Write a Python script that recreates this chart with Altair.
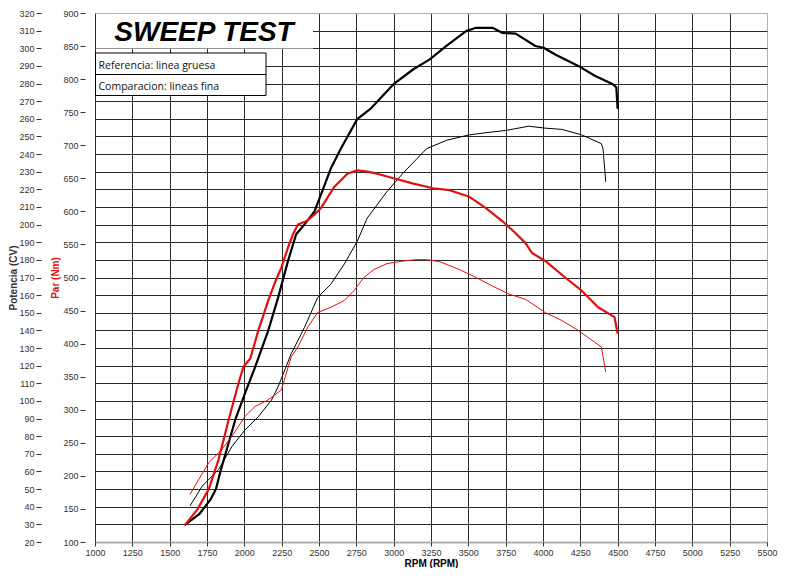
import altair as alt
import pandas as pd

# ---------------- data ----------------
# Reference (thick) power curve, CV
ref_pow_rpm = [1600, 1700, 1773, 1810, 1840, 1895, 1939, 2005, 2072, 2160, 2226, 2292, 2347,
               2403, 2469, 2513, 2579, 2646, 2756, 2844, 2999, 3132, 3242, 3353, 3485, 3552,
               3662, 3729, 3817, 3949, 4004, 4082, 4236, 4347, 4468, 4491, 4500]
ref_pow_cv = [29.6, 36.0, 44.0, 50.0, 60.0, 76.3, 89.2, 104.4, 119.2, 139.9, 158.6, 179.3, 194.5,
              200.1, 207.4, 217.0, 231.8, 243.0, 259.8, 265.6, 279.6, 288.1, 293.7, 301.3, 309.7, 311.6,
              311.6, 308.7, 308.3, 301.3, 300.3, 296.5, 290.0, 284.4, 279.6, 277.8, 265.6]

# Reference (thick) torque curve, Nm
ref_tq_rpm = [1600, 1685, 1762, 1828, 1895, 1961, 1994, 2039, 2094, 2160, 2204, 2248, 2292,
              2325, 2359, 2414, 2469, 2513, 2602, 2690, 2756, 2823, 2889, 2999, 3132, 3265,
              3375, 3507, 3618, 3729, 3817, 3883, 3927, 4015, 4148, 4259, 4369, 4479, 4500]
ref_tq_nm = [125, 149, 180, 225, 285, 340, 365, 377, 420, 465, 492, 515, 545,
             565, 580, 585, 595, 605, 637, 657, 662, 660, 657, 650, 642, 635,
             632, 622, 605, 585, 567, 552, 537, 525, 500, 480, 455, 440, 415]

# Comparison (thin) power curve, CV
cmp_pow_rpm = [1636, 1718, 1828, 1917, 2005, 2094, 2182, 2226, 2314, 2403, 2491, 2579, 2668,
               2756, 2823, 2889, 2955, 3066, 3220, 3353, 3507, 3618, 3750, 3905, 4015, 4126,
               4259, 4391, 4402, 4420]
cmp_pow_cv = [40.4, 51.7, 61.1, 74.2, 83.6, 91.1, 100.5, 108.0, 126.8, 141.7, 158.6, 166.2, 177.4,
              190.5, 203.7, 211.2, 218.7, 229.5, 243.0, 247.8, 250.9, 252.1, 253.4, 255.8, 254.7, 254.0,
              250.9, 245.9, 243.0, 224.3]

# Comparison (thin) torque curve, Nm
cmp_tq_rpm = [1636, 1696, 1762, 1850, 1917, 2005, 2072, 2160, 2248, 2314, 2359, 2425, 2491,
              2579, 2668, 2734, 2800, 2867, 2955, 3066, 3154, 3220, 3308, 3441, 3552, 3662,
              3772, 3883, 4015, 4126, 4236, 4347, 4391, 4402, 4420]
cmp_tq_nm = [172, 195, 220, 240, 260, 290, 305, 315, 330, 380, 395, 425, 447,
             455, 465, 480, 500, 512, 521, 525, 527, 527, 524, 512, 500, 487,
             475, 467, 447, 435, 420, 402, 395, 380, 357]

series = ["Referencia", "Comparacion"]
rpm_ticks = list(range(1000, 5501, 250))
cv_ticks = list(range(20, 321, 10))
nm_ticks = list(range(100, 901, 50))

title_text = "SWEEP TEST"
legend_lines = ["Referencia: linea gruesa", "Comparacion: lineas fina"]

# ---------------- tables ----------------
df_pow = pd.DataFrame({
    "rpm": ref_pow_rpm + cmp_pow_rpm,
    "cv": ref_pow_cv + cmp_pow_cv,
    "serie": [series[0]] * len(ref_pow_rpm) + [series[1]] * len(cmp_pow_rpm),
})
df_tq = pd.DataFrame({
    "rpm": ref_tq_rpm + cmp_tq_rpm,
    "nm": ref_tq_nm + cmp_tq_nm,
    "serie": [series[0]] * len(ref_tq_rpm) + [series[1]] * len(cmp_tq_rpm),
})

FONT = "Liberation Sans"
GRID = "#2a2a2a"
EDGE = "#b0b0b0"
W, H = 672, 529

x_enc = alt.X(
    "rpm:Q",
    scale=alt.Scale(domain=[1000, 5500], nice=False, zero=False),
    axis=alt.Axis(
        values=rpm_ticks, format="d", title="RPM (RPM)",
        grid=True, labelFlush=False,
        gridColor={"condition": {"test": "datum.value == 5500", "value": EDGE}, "value": GRID},
        domain=False, tickSize=4, labelPadding=2, titlePadding=1,
        labelFontSize=9, titleFontSize=10, titleFontWeight="bold",
    ),
)

sw_scale = alt.Scale(domain=series, range=[2.2, 1.0])

power = alt.Chart(df_pow).mark_line(color="#000000", strokeJoin="round").encode(
    x=x_enc,
    y=alt.Y(
        "cv:Q",
        scale=alt.Scale(domain=[20, 320], nice=False, zero=False),
        axis=alt.Axis(
            orient="left", offset=54, values=cv_ticks, format="d",
            title="Potencia (CV)", grid=True, labelFlush=False,
            gridColor={"condition": {"test": "datum.value == 20 || datum.value == 320", "value": EDGE},
                       "value": GRID},
            gridWidth={"condition": {"test": "datum.value == 20", "value": 2}, "value": 1},
            domain=False, tickSize=5, labelPadding=2, titlePadding=0,
            labelFontSize=9, titleFontSize=10, titleFontWeight="bold", titleColor="#333333",
        ),
    ),
    strokeWidth=alt.StrokeWidth("serie:N", scale=sw_scale, legend=None),
)

torque = alt.Chart(df_tq).mark_line(color="#e01010", strokeJoin="round").encode(
    x=x_enc,
    y=alt.Y(
        "nm:Q",
        scale=alt.Scale(domain=[100, 900], nice=False, zero=False),
        axis=alt.Axis(
            orient="left", offset=10, values=nm_ticks, format="d",
            title="Par (Nm)", grid=False, labelFlush=False,
            domain=False, tickSize=5, labelPadding=2, titlePadding=2,
            labelFontSize=9, titleFontSize=10, titleFontWeight="bold", titleColor="#e01010",
        ),
    ),
    strokeWidth=alt.StrokeWidth("serie:N", scale=sw_scale, legend=None),
)

one = pd.DataFrame({"k": [0]})

title_box = alt.Chart(one).mark_rect(fill="white").encode(
    x=alt.value(1), x2=alt.value(218), y=alt.value(1), y2=alt.value(35.5)
)
legend_box = alt.Chart(one).mark_rect(fill="white", stroke="black", strokeWidth=1).encode(
    x=alt.value(0.5), x2=alt.value(171), y=alt.value(40), y2=alt.value(82.5)
)
legend_div = alt.Chart(one).mark_rule(color="black", strokeWidth=1).encode(
    x=alt.value(0.5), x2=alt.value(171), y=alt.value(61.5)
)
title_mark = alt.Chart(pd.DataFrame({"t": [title_text]})).mark_text(
    font=FONT, fontSize=28, fontWeight="bold", fontStyle="italic",
    align="center", baseline="alphabetic", color="black",
).encode(text="t:N", x=alt.value(109), y=alt.value(28))

leg_df = pd.DataFrame({"t": legend_lines, "yy": [56, 77]})
leg_text = alt.Chart(leg_df).mark_text(
    font="Open Sans", fontSize=10.5, align="left", baseline="alphabetic", color="#111111",
).encode(text="t:N", x=alt.value(3.5), y=alt.Y("yy:Q", scale=None, axis=None))

chart = alt.layer(
    title_box, legend_box, legend_div, title_mark, leg_text, power, torque
).resolve_scale(
    y="independent", strokeWidth="shared"
).properties(
    width=W, height=H,
    padding={"left": 87, "top": 5, "right": 11, "bottom": 26},
    autosize=alt.AutoSizeParams(type="none"),
    background="white",
).configure_view(
    stroke=EDGE, strokeWidth=1
).configure_axis(
    labelFont=FONT, titleFont=FONT, labelColor="#333333", tickColor="#333333",
)

chart.save("out.html", embed_options={"renderer": "svg", "actions": False})
